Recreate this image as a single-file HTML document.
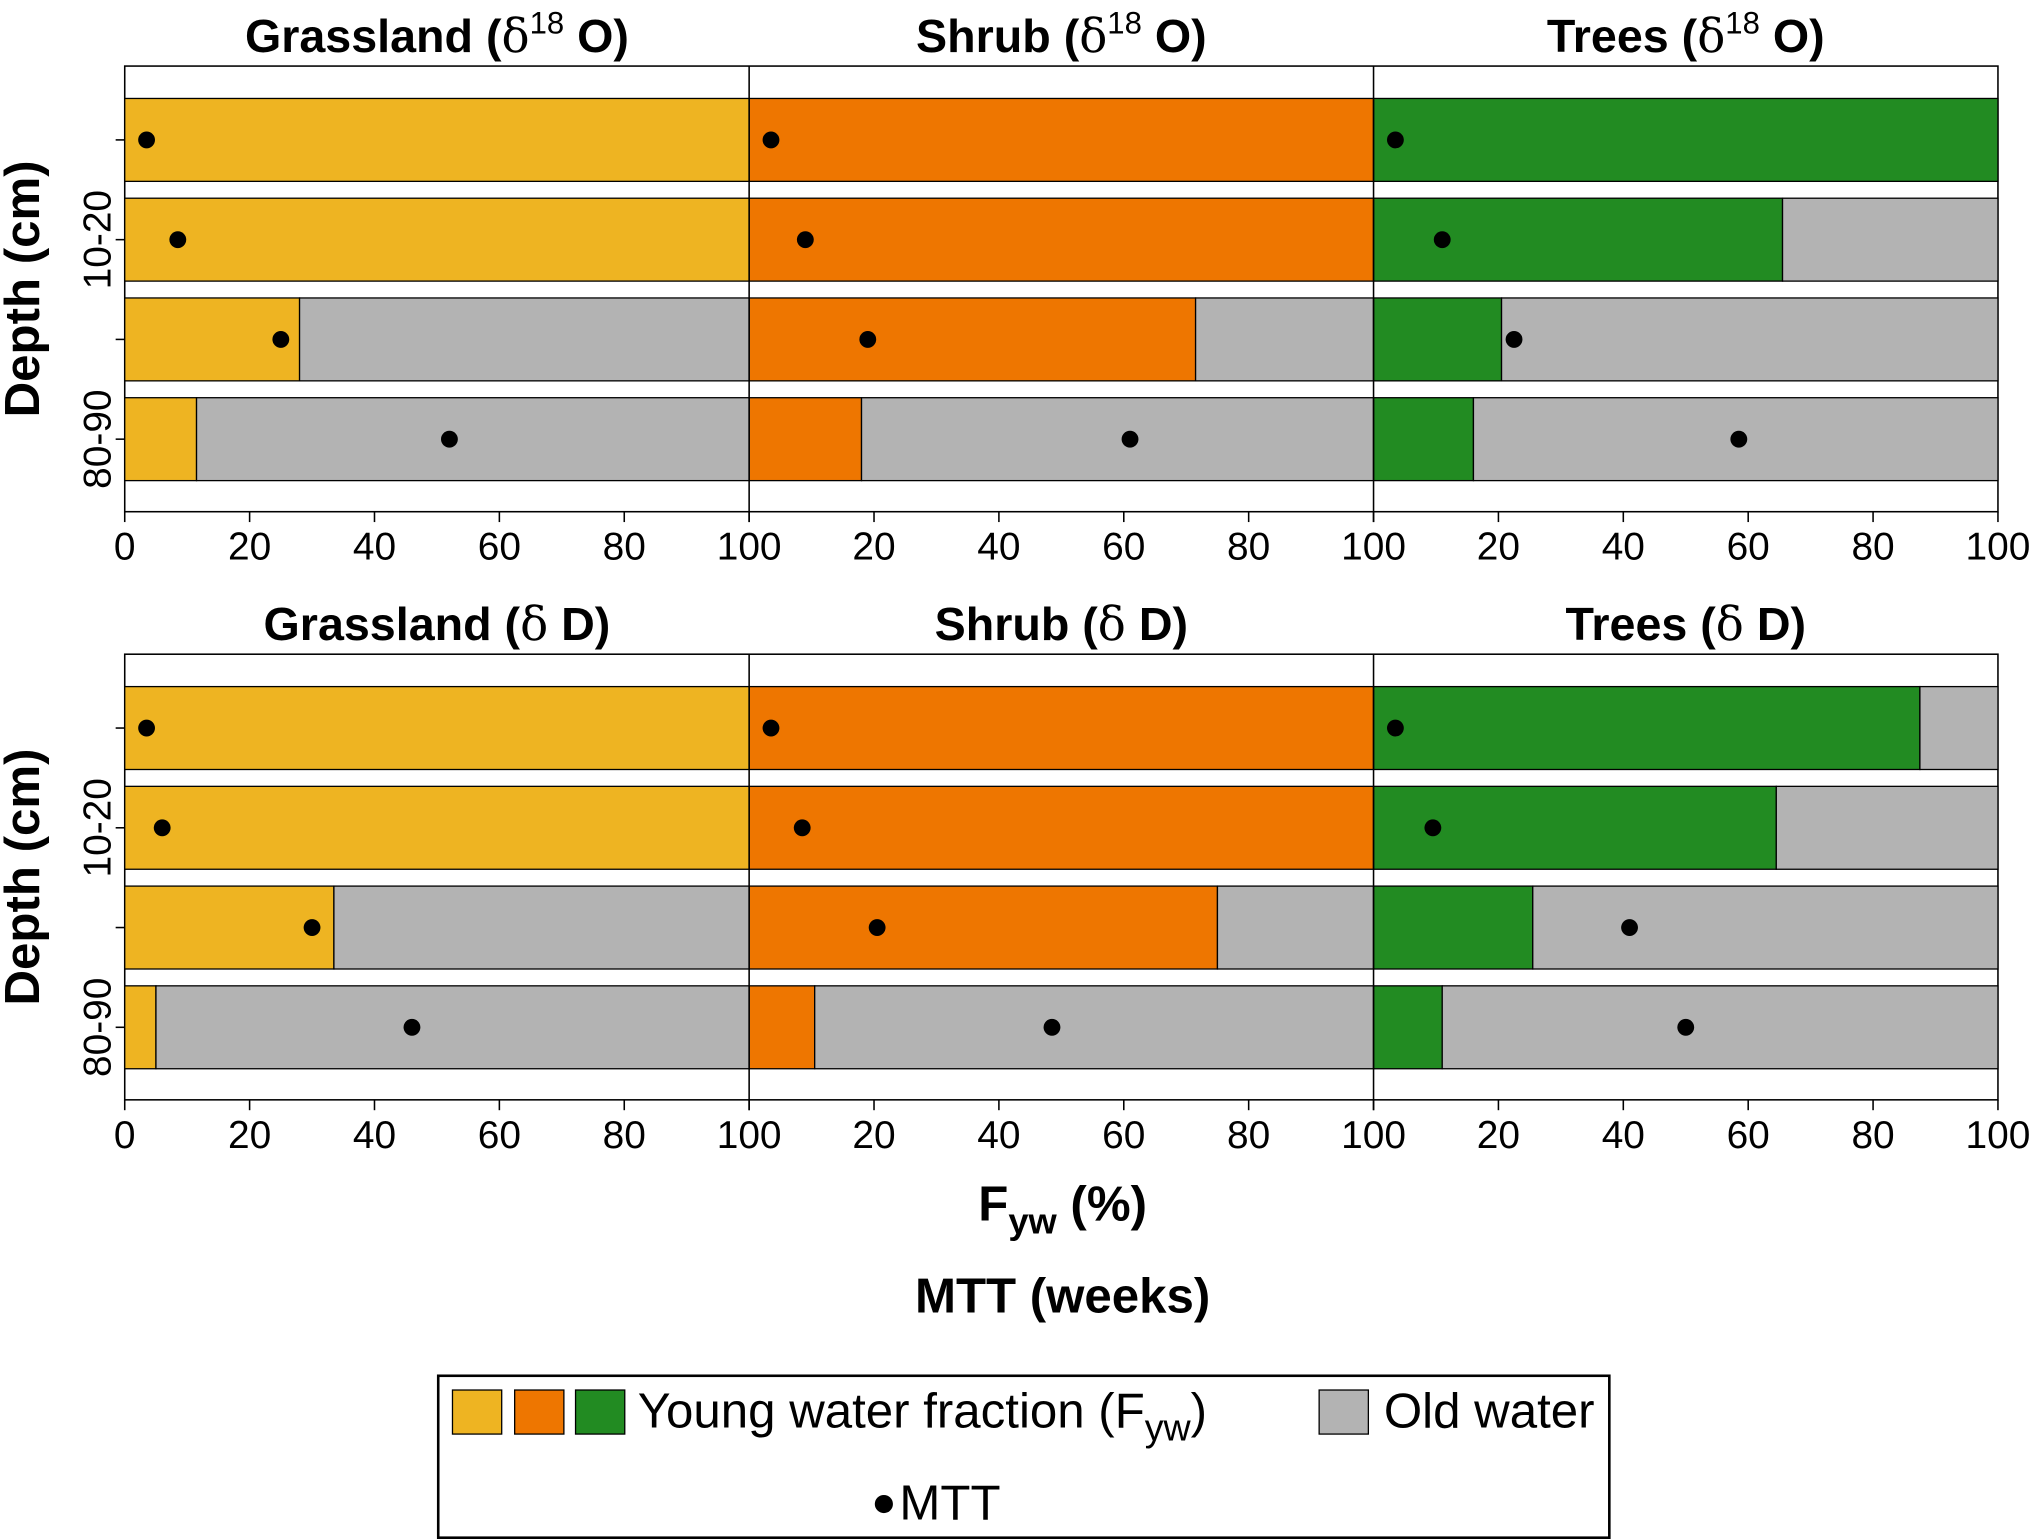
<!DOCTYPE html>
<html><head><meta charset="utf-8"><style>
html,body{margin:0;padding:0;background:#fff}
svg{display:block;font-family:"Liberation Sans",Arial,sans-serif}
</style></head><body>
<svg id="chart" width="2032" height="1539" viewBox="0 0 1568 1188" xmlns="http://www.w3.org/2000/svg"></svg>
<script>
const vegTypes = ["Grassland","Shrub","Trees"];
const colors = ["#EEB422","#EE7600","#228B22"];
const ticks = [0,20,40,60,80,100];
// delta 18O
const fywO = [[100,100,28,11.5],[100,100,71.5,18],[100,65.5,20.5,16]];
const mttO = [[3.5,8.5,25,52],[3.5,9,19,61],[3.5,11,22.5,58.5]];
// delta D
const fywD = [[100,100,33.5,5],[100,100,75,10.5],[87.5,64.5,25.5,11]];
const mttD = [[3.5,6,30,46],[3.5,8.5,20.5,48.5],[3.5,9.5,41,50]];

const svg = document.getElementById('chart');
const NS = "http://www.w3.org/2000/svg";
function mk(tag, attrs, parent){
  const e = document.createElementNS(NS, tag);
  for (const k in attrs) e.setAttribute(k, attrs[k]);
  (parent||svg).appendChild(e); return e;
}
const X0 = 96, PW = 482;
function xScale(p, v){ return X0 + p*PW + v/100*PW; }
const rowOffsets = [25, 102, 179, 256], barH = 64;

function drawBlock(top, fyw, mtt, isoLabel, blockName){
  const g = mk('g', {});
  
  
  const fr = mk('rect', {x:X0, y:top, width:PW*3, height:344, fill:'none', stroke:'#000', 'stroke-width':1.2}, g);
  
  
  for (let p=0;p<3;p++){
    const t = mk('text', {x:X0+p*PW+PW/2, y:top-11, 'text-anchor':'middle', 'font-size':36, 'font-weight':'bold'}, g);
    
    
    if (isoLabel === 'O') {
      t.innerHTML = vegTypes[p] + ' (<tspan font-weight="normal" font-family="DejaVu Serif, serif">δ</tspan><tspan font-size="24" font-weight="normal" dy="-14">18</tspan><tspan dy="14"> O)</tspan>';
    } else {
      t.innerHTML = vegTypes[p] + ' (<tspan font-weight="normal" font-family="DejaVu Serif, serif">δ</tspan> D)';
    }
    for (let r=0;r<4;r++){
      const y = top + rowOffsets[r];
      const yw = mk('rect', {x:xScale(p,0), y:y, width:xScale(p,fyw[p][r])-xScale(p,0), height:barH, fill:colors[p], stroke:'#000', 'stroke-width':1}, g);
      
      
      if (fyw[p][r] < 100){
        const ow = mk('rect', {x:xScale(p,fyw[p][r]), y:y, width:xScale(p,100)-xScale(p,fyw[p][r]), height:barH, fill:'#B3B3B3', stroke:'#000', 'stroke-width':1}, g);
        
        
      }
      const d = mk('circle', {cx:xScale(p,mtt[p][r]), cy:y+barH/2, r:6.5, fill:'#000'}, g);
      
      
    }
    if (p>0){
      const l = mk('line', {x1:X0+p*PW, x2:X0+p*PW, y1:top, y2:top+344, stroke:'#000', 'stroke-width':1.2}, g);
      
      
    }
    ticks.forEach(tv=>{
      const x = xScale(p,tv);
      const tk = mk('line', {x1:x, x2:x, y1:top+344, y2:top+352, stroke:'#000', 'stroke-width':1.2}, g);
      
      
      if (p>0 && tv===0) return;
      const tl = mk('text', {x:x, y:top+381, 'text-anchor':'middle', 'font-size':30}, g);
      
      
      tl.textContent = tv;
    });
  }
  [[1,'10-20'],[3,'80-90']].forEach(([r,lab])=>{
    const cy = top + rowOffsets[r] + barH/2;
    const yl = mk('text', {x:0, y:0, 'text-anchor':'middle', 'font-size':30, transform:`translate(85,${cy}) rotate(-90)`}, g);
    
    
    yl.textContent = lab;
  });
  rowOffsets.forEach(o=>{
    const yt = mk('line', {x1:X0-7, x2:X0, y1:top+o+barH/2, y2:top+o+barH/2, stroke:'#000', 'stroke-width':1.2}, g);
    
    
  });
  const ya = mk('text', {x:0, y:0, 'text-anchor':'middle', 'font-size':38, 'font-weight':'bold', transform:`translate(30,${top+172}) rotate(-90)`}, g);
  
  
  ya.textContent = 'Depth (cm)';
}
drawBlock(51, fywO, mttO, 'O', 'd18o-panels');
drawBlock(505, fywD, mttD, 'D', 'dd-panels');

const xt = mk('text', {x:820, y:942, 'text-anchor':'middle', 'font-size':38, 'font-weight':'bold'});


xt.innerHTML = 'F<tspan font-size="28" dy="10">yw</tspan><tspan dy="-10"> (%)</tspan>';
const xt2 = mk('text', {x:820, y:1013, 'text-anchor':'middle', 'font-size':38, 'font-weight':'bold'});


xt2.textContent = 'MTT (weeks)';

const lg = mk('g', {});


const lb = mk('rect', {x:338, y:1062, width:904, height:125, fill:'#fff', stroke:'#000', 'stroke-width':2}, lg);


[349,397,444].forEach((x,i)=>{
  const s = mk('rect', {x:x, y:1073, width:38, height:34, fill:colors[i], stroke:'#000', 'stroke-width':1}, lg);
  
  
});
const lt = mk('text', {x:492, y:1102, 'font-size':38}, lg);


lt.innerHTML = 'Young water fraction (F<tspan font-size="29" dy="10">yw</tspan><tspan dy="-10">)</tspan>';
const os = mk('rect', {x:1018, y:1073, width:38, height:34, fill:'#B3B3B3', stroke:'#000', 'stroke-width':1}, lg);


const ot = mk('text', {x:1068, y:1102, 'font-size':38}, lg);


ot.textContent = 'Old water';
const md = mk('circle', {cx:682, cy:1161, r:7, fill:'#000'}, lg);


const mt = mk('text', {x:694, y:1173, 'font-size':38}, lg);


mt.textContent = 'MTT';
</script>
</body></html>
